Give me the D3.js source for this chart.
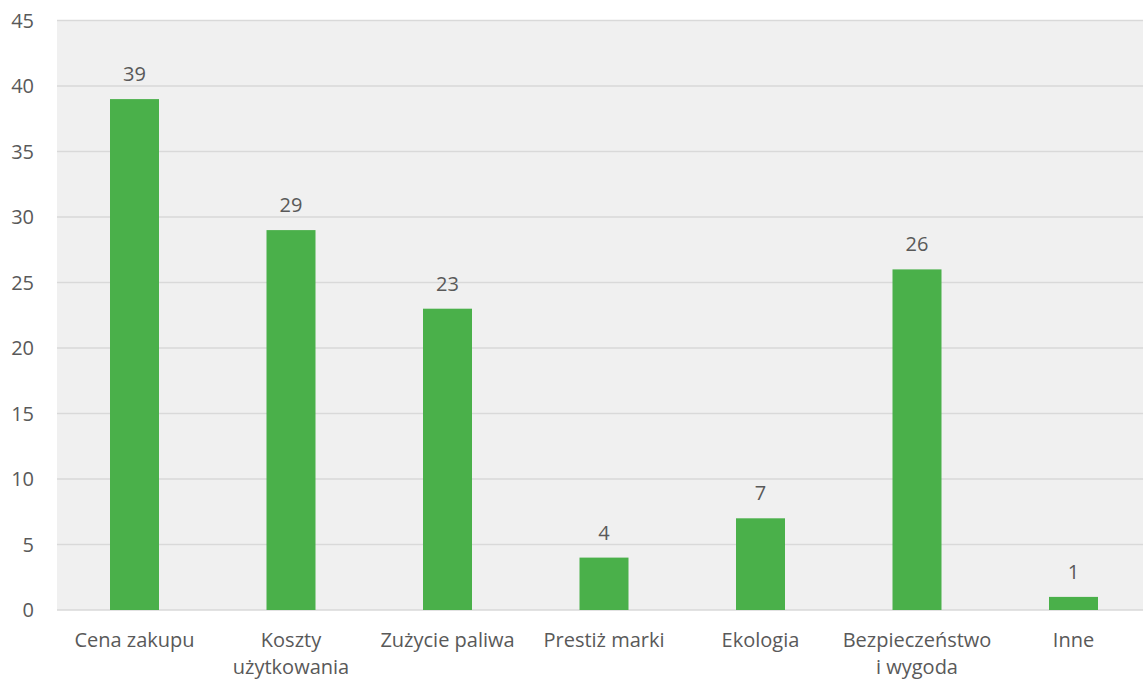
<!DOCTYPE html>
<html><head><meta charset="utf-8">
<script src="https://cdn.jsdelivr.net/npm/d3@7"></script>
<style>body{margin:0;background:#fff}text{font-family:"Open Sans",sans-serif;fill:#595959}</style>
</head><body><svg id="c" width="1143" height="681"></svg>
<script>
const categories = [["Cena zakupu"],["Koszty","użytkowania"],["Zużycie paliwa"],["Prestiż marki"],["Ekologia"],["Bezpieczeństwo","i wygoda"],["Inne"]];
const values = [39,29,23,4,7,26,1];
const yTicks = [0,5,10,15,20,25,30,35,40,45];

const svg = d3.select("#c");
const L = 57, R = 1143, T = 20.5, B = 610;
const x = d3.scaleBand().domain(d3.range(categories.length)).range([56.25, 56.25 + 7*156.5]).padding(0);
const y = d3.scaleLinear().domain([0,45]).range([B, T]);
svg.append("rect").attr("x",L).attr("y",T).attr("width",R-L).attr("height",B-T).attr("fill","#f0f0f0");
svg.append("g").selectAll("line").data(yTicks).join("line")
  .attr("x1",L).attr("x2",R).attr("y1",d=>y(d)).attr("y2",d=>y(d))
  .attr("stroke","#d9d9d9").attr("stroke-width",1.5);
svg.append("g").selectAll("text").data(yTicks).join("text")
  .attr("x",34).attr("y",d=>y(d)+7).attr("text-anchor","end").attr("font-size",20).text(d=>d);
const bw = 49;
svg.append("g").selectAll("rect").data(values).join("rect")
  .attr("x",(d,i)=>x(i)+x.bandwidth()/2-bw/2).attr("width",bw)
  .attr("y",d=>y(d)).attr("height",d=>B-y(d)).attr("fill","#4ab04a");
svg.append("g").selectAll("text").data(values).join("text")
  .attr("x",(d,i)=>x(i)+x.bandwidth()/2).attr("y",d=>y(d)-18)
  .attr("text-anchor","middle").attr("font-size",20).text(d=>d);
const xl = svg.append("g").selectAll("text").data(categories).join("text")
  .attr("x",(d,i)=>x(i)+x.bandwidth()/2).attr("y",647).attr("text-anchor","middle").attr("font-size",20);
xl.selectAll("tspan").data(d=>d).join("tspan")
  .attr("x",function(){return this.parentNode.getAttribute("x");})
  .attr("dy",(d,i)=>i?27:0).text(d=>d);
</script></body></html>
